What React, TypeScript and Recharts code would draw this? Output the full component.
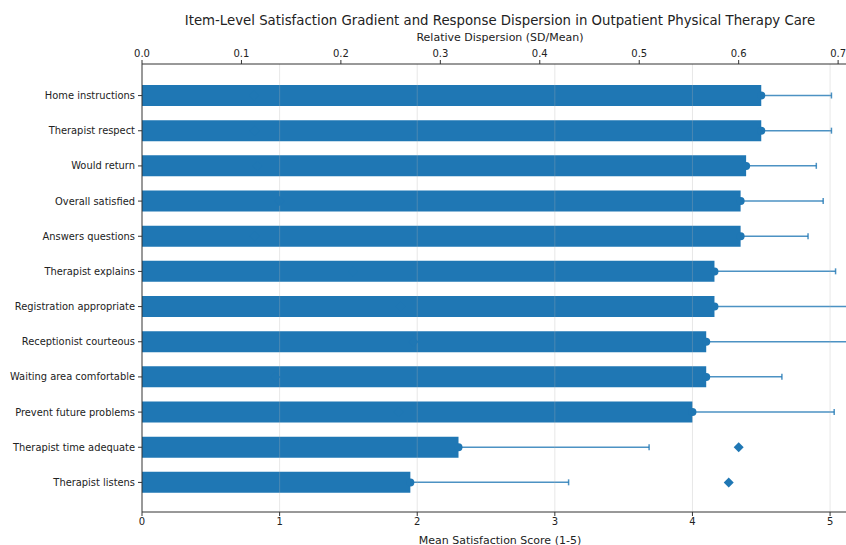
import React from 'react';
import { ComposedChart, Bar, ErrorBar, Scatter, XAxis, YAxis, ReferenceLine } from 'recharts';

const categories = [
  'Home instructions',
  'Therapist respect',
  'Would return',
  'Overall satisfied',
  'Answers questions',
  'Therapist explains',
  'Registration appropriate',
  'Receptionist courteous',
  'Waiting area comfortable',
  'Prevent future problems',
  'Therapist time adequate',
  'Therapist listens',
];
const meanScores = [4.5, 4.5, 4.39, 4.35, 4.35, 4.16, 4.16, 4.1, 4.1, 4.0, 2.3, 1.95];
const sdValues = [0.51, 0.51, 0.51, 0.6, 0.49, 0.88, 1.08, 1.12, 0.55, 1.03, 1.385, 1.15];
const dispersion = [0.113, 0.113, 0.116, 0.138, 0.113, 0.212, 0.26, 0.273, 0.134, 0.258, 0.6, 0.59];

const bottomTicks = [0, 1, 2, 3, 4, 5];
const topTicks = [0, 0.1, 0.2, 0.3, 0.4, 0.5, 0.6, 0.7];
const gridValues = [1, 2, 3, 4, 5];

const data = categories.map((name, i) => ({
  name,
  mean: meanScores[i],
  sd: sdValues[i],
  cv: dispersion[i],
}));

const BLUE = '#1f77b4';
const AXIS = '#333333';
const TEXT = '#222222';
const FONT = '"DejaVu Sans", sans-serif';

const Dot = (props: any) => {
  const { cx, cy } = props;
  if (cx == null || cy == null) return null;
  return <circle cx={cx} cy={cy} r={4} fill={BLUE} />;
};

const Diamond = (props: any) => {
  const { cx, cy } = props;
  if (cx == null || cy == null) return null;
  const r = 5;
  return (
    <polygon
      points={`${cx},${cy - r} ${cx + r},${cy} ${cx},${cy + r} ${cx - r},${cy}`}
      fill={BLUE}
    />
  );
};

const CategoryTick = (props: any) => {
  const { x, y, payload } = props;
  return (
    <text
      x={x}
      y={y}
      dy="0.35em"
      textAnchor="end"
      fontSize={9.9}
      fill={TEXT}
      fontFamily={FONT}
    >
      {payload.value}
    </text>
  );
};

export default function App() {
  return (
    <div
      style={{
        position: 'absolute',
        left: 0,
        top: 0,
        width: 846,
        height: 545,
        overflow: 'hidden',
        background: '#ffffff',
        fontFamily: FONT,
      }}
    >
      <ComposedChart
        width={858}
        height={545}
        layout="vertical"
        data={data}
        margin={{ top: 34, right: 0, bottom: 0, left: 0 }}
        style={{ fontFamily: FONT }}
      >
        <XAxis
          xAxisId="bottom"
          type="number"
          orientation="bottom"
          domain={[0, 5.203]}
          ticks={bottomTicks}
          allowDataOverflow
          height={33}
          tickSize={4}
          tickMargin={2}
          stroke={AXIS}
          tick={{ fill: TEXT, fontSize: 10 }}
        />
        <XAxis
          xAxisId="top"
          type="number"
          orientation="top"
          domain={[0, 0.72]}
          ticks={topTicks}
          tickFormatter={(v: number) => v.toFixed(1)}
          allowDataOverflow
          height={30}
          tickSize={4}
          tickMargin={3}
          stroke={AXIS}
          tick={{ fill: TEXT, fontSize: 10 }}
        />
        <YAxis
          type="category"
          dataKey="name"
          width={142}
          padding={{ top: 14, bottom: 12 }}
          interval={0}
          tickSize={4}
          tickMargin={3}
          stroke={AXIS}
          tick={<CategoryTick />}
        />
        <Scatter xAxisId="top" dataKey="cv" shape={<Diamond />} isAnimationActive={false} />
        <Bar xAxisId="bottom" dataKey="mean" fill={BLUE} barSize={21} isAnimationActive={false}>
          <ErrorBar
            dataKey={(d: any) => [0, d.sd]}
            direction="x"
            width={3}
            stroke={BLUE}
            strokeOpacity={0.8}
            strokeWidth={1.5}
          />
        </Bar>
        <Scatter xAxisId="bottom" dataKey="mean" shape={<Dot />} isAnimationActive={false} />
        {gridValues.map((v) => (
          <ReferenceLine
            key={v}
            xAxisId="bottom"
            x={v}
            stroke="#b0b0b0"
            strokeOpacity={0.3}
            strokeWidth={1}
          />
        ))}
      </ComposedChart>
      <div
        style={{
          position: 'absolute',
          left: 500,
          top: 20,
          transform: 'translate(-50%, -50%)',
          whiteSpace: 'nowrap',
          fontSize: 13.3,
          color: TEXT,
        }}
      >
        Item-Level Satisfaction Gradient and Response Dispersion in Outpatient Physical Therapy Care
      </div>
      <div
        style={{
          position: 'absolute',
          left: 500,
          top: 37,
          transform: 'translate(-50%, -50%)',
          whiteSpace: 'nowrap',
          fontSize: 11,
          color: TEXT,
        }}
      >
        Relative Dispersion (SD/Mean)
      </div>
      <div
        style={{
          position: 'absolute',
          left: 500,
          top: 540,
          transform: 'translate(-50%, -50%)',
          whiteSpace: 'nowrap',
          fontSize: 11,
          color: TEXT,
        }}
      >
        Mean Satisfaction Score (1-5)
      </div>
    </div>
  );
}
